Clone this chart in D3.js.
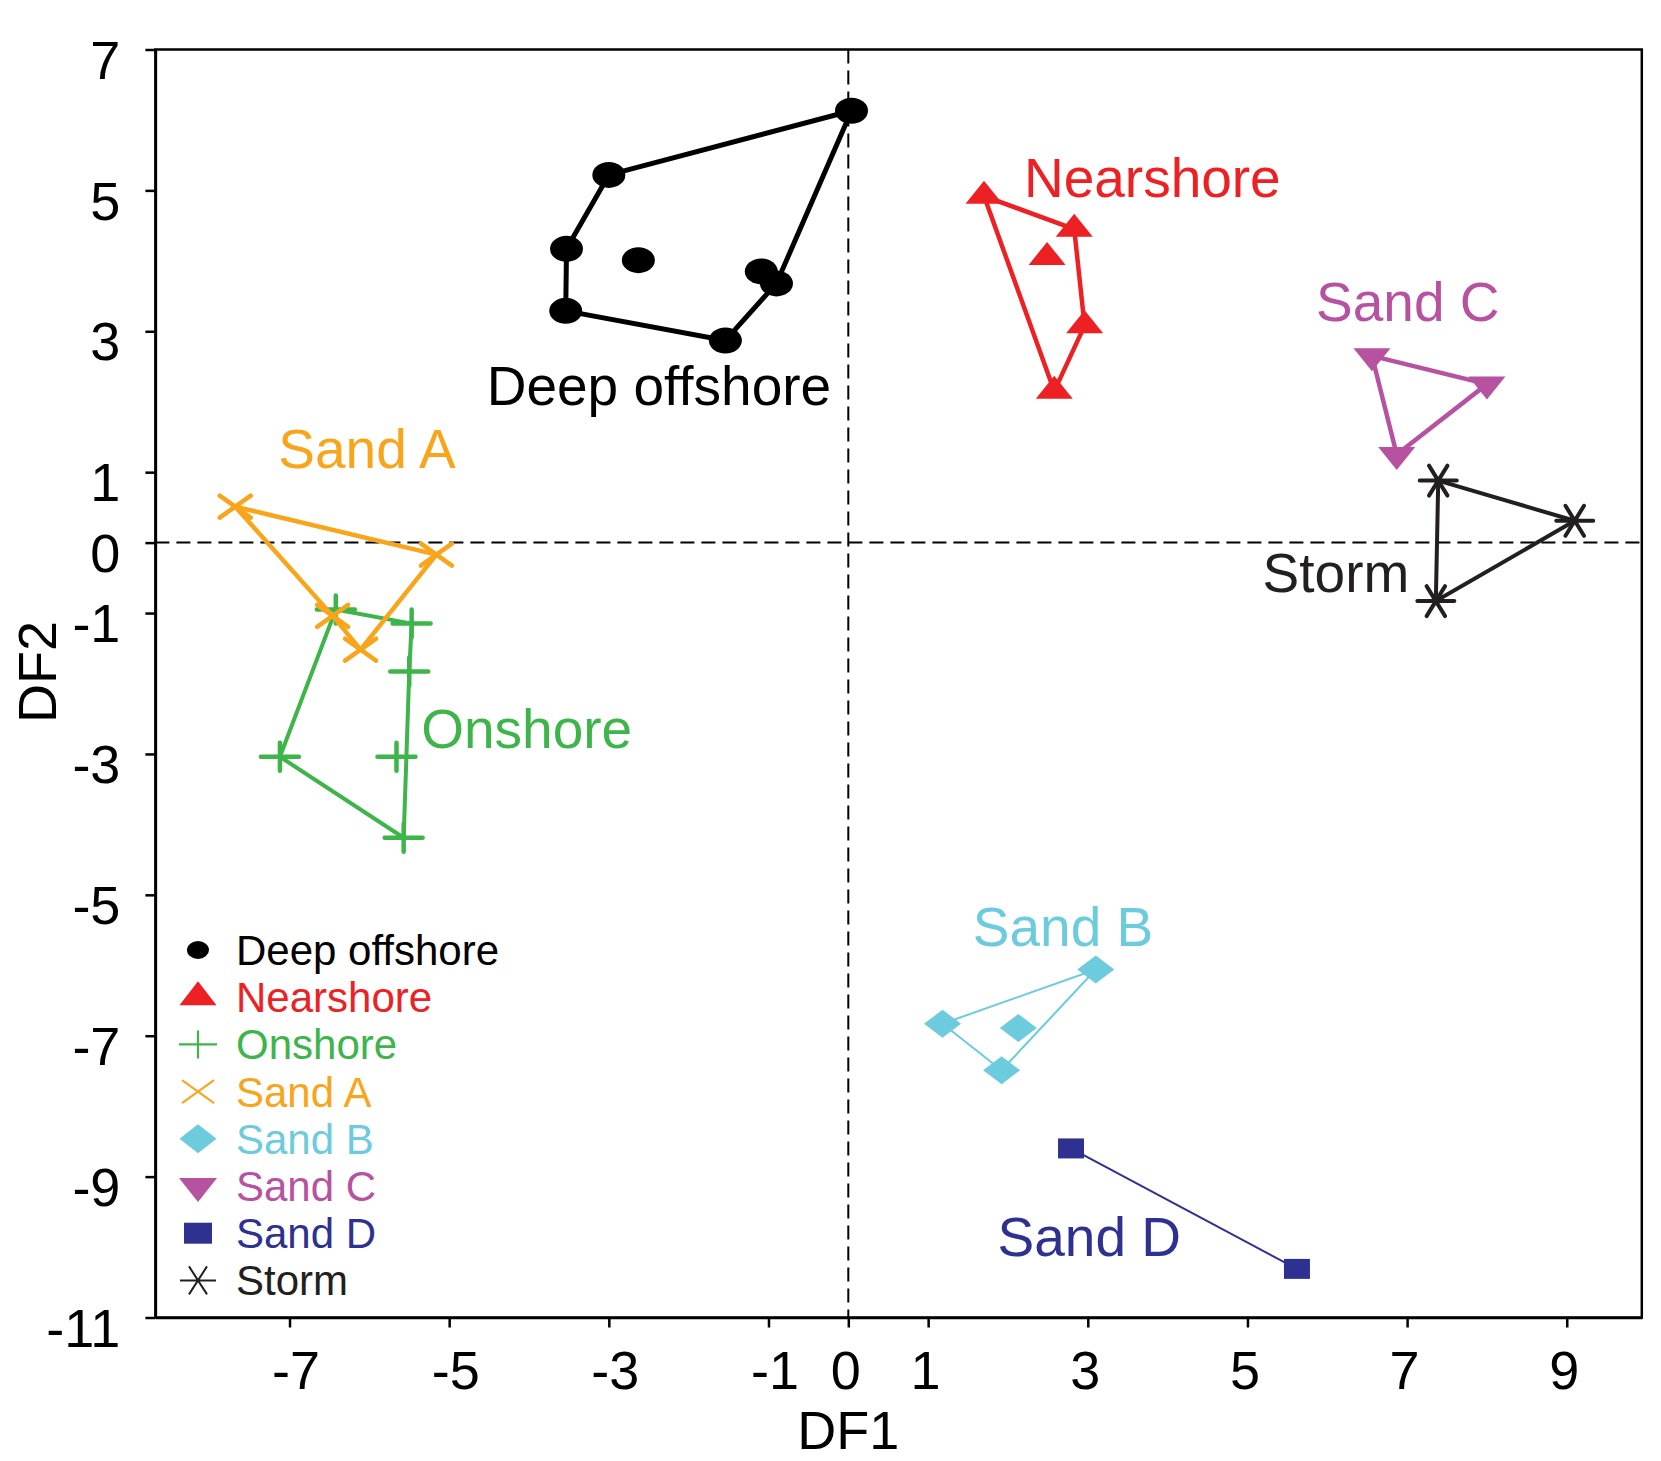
<!DOCTYPE html>
<html>
<head>
<meta charset="utf-8">
<script src="https://cdn.jsdelivr.net/npm/d3@7"></script>
<style>
  body { margin: 0; background: #fff; }
  svg { display: block; font-family: "Liberation Sans", Arial, sans-serif; }
</style>
</head>
<body>
<div id="chart"></div>
<script>
// Discriminant scores (DF1, DF2), one array per group
const deepOffshore = [[0.04, 6.13], [-3.00, 5.22], [-3.53, 4.17], [-3.54, 3.29], [-1.54, 2.87], [-0.90, 3.68], [-1.09, 3.85], [-2.63, 4.01]];
const nearshore = [[1.70, 4.92], [2.83, 4.45], [2.49, 4.05], [2.96, 3.08], [2.58, 2.15]];
const onshore = [[-6.42, -0.95], [-5.47, -1.15], [-5.50, -1.83], [-5.66, -3.04], [-7.12, -3.04], [-5.57, -4.19]];
const sandA = [[-7.68, 0.51], [-5.16, -0.17], [-6.46, -1.04], [-6.11, -1.52]];
const sandB = [[3.10, -6.06], [1.18, -6.83], [2.13, -6.89], [1.92, -7.49]];
const sandC = [[6.56, 2.65], [8.00, 2.25], [6.87, 1.25]];
const sandD = [[2.79, -8.60], [5.62, -10.31]];
const storm = [[7.39, 0.88], [9.10, 0.31], [7.36, -0.83]];

// which points make up the outline drawn round each group
const hulls = {
  'Deep offshore': [0, 1, 2, 3, 4, 5, 0],
  'Nearshore': [0, 1, 3, 4, 0],
  'Onshore': [0, 1, 2, 5, 4, 0],
  'Sand A': [0, 1, 3, 2, 0],
  'Sand B': [0, 1, 3, 0],
  'Sand C': [0, 1, 2, 0],
  'Sand D': [0, 1],
  'Storm': [0, 1, 2, 0],
};

const groupNames = ['Deep offshore', 'Nearshore', 'Onshore', 'Sand A', 'Sand B', 'Sand C', 'Sand D', 'Storm'];
const groupPoints = [deepOffshore, nearshore, onshore, sandA, sandB, sandC, sandD, storm];

const xTicks = [-7, -5, -3, -1, 0, 1, 3, 5, 7, 9];
const yTicks = [7, 5, 3, 1, 0, -1, -3, -5, -7, -9, -11];

// styling per group
const styles = {
  'Deep offshore': { color: '#000000', shape: 'circle', lw: 5, size: [33, 26], legSize: [22, 18] },
  'Nearshore': { color: '#ed2024', shape: 'triUp', lw: 4.5, size: [37, 23], legSize: [37, 24] },
  'Onshore': { color: '#3db54a', shape: 'plus', lw: 4, size: [38, 28], legSize: [38, 28], mw: 4.5, legMw: 2.2 },
  'Sand A': { color: '#f9a51b', shape: 'times', lw: 4.5, size: [31, 22], legSize: [32, 23], mw: 4.5, legMw: 2 },
  'Sand B': { color: '#6ccbdc', shape: 'diamond', lw: 2, size: [37, 28], legSize: [37, 29] },
  'Sand C': { color: '#b6529f', shape: 'triDown', lw: 4.5, size: [37, 23], legSize: [38, 24] },
  'Sand D': { color: '#2e3192', shape: 'square', lw: 2, size: [26, 20], legSize: [28, 21] },
  'Storm': { color: '#231f20', shape: 'asterisk', lw: 4, size: [37, 30], legSize: [36, 28], mw: 4, legMw: 2 },
};

// group name labels, placed in DF units
const labelPos = {
  'Deep offshore': [-4.53, 1.95],
  'Nearshore': [2.20, 4.91],
  'Sand C': [5.86, 3.14],
  'Sand A': [-7.14, 1.06],
  'Onshore': [-5.35, -2.92],
  'Storm': [5.19, -0.70],
  'Sand B': [1.56, -5.72],
  'Sand D': [1.87, -10.13],
};

const width = 1661;
const height = 1461;
const margins = { top: 49.5, right: 19.2, bottom: 143.5, left: 155.4 };
const innerWidth = width - margins.left - margins.right;
const innerHeight = height - margins.top - margins.bottom;

// shapes are a bit wider than tall, as in the figure
function markerPath(shape, w, h) {
  const a = w / 2, b = h / 2;
  switch (shape) {
    case 'circle':
      return `M${-a},0A${a},${b} 0 1,0 ${a},0A${a},${b} 0 1,0 ${-a},0Z`;
    case 'triUp':
      return `M0,${-2 * h / 3}L${a},${h / 3}L${-a},${h / 3}Z`;
    case 'triDown':
      return `M0,${2 * h / 3}L${a},${-h / 3}L${-a},${-h / 3}Z`;
    case 'diamond':
      return `M0,${-b}L${a},0L0,${b}L${-a},0Z`;
    case 'square':
      return `M${-a},${-b}H${a}V${b}H${-a}Z`;
    case 'plus':
      return `M${-a},0H${a}M0,${-b}V${b}`;
    case 'times':
      return `M${-a},${-b}L${a},${b}M${-a},${b}L${a},${-b}`;
    case 'asterisk':
      return `M${-a},0H${a}M${-w / 4},${-b}L${w / 4},${b}M${w / 4},${-b}L${-w / 4},${b}`;
    default:
      return '';
  }
}
const isStroked = shape => ['plus', 'times', 'asterisk'].includes(shape);

const svg = d3.select('#chart')
  .append('svg')
  .attr('width', width)
  .attr('height', height);

const g = svg.append('g')
  .attr('transform', `translate(${margins.left}, ${margins.top})`);

const xScale = d3.scaleLinear()
  .domain([-8.68, 9.94])
  .range([0, innerWidth]);

const yScale = d3.scaleLinear()
  .domain([-11, 7])
  .range([innerHeight, 0]);

// Axes
const xAxis = d3.axisBottom(xScale)
  .tickValues(xTicks)
  .tickFormat(d => String(d))
  .tickSize(10)
  .tickSizeOuter(0)
  .tickPadding(23);

const yAxis = d3.axisLeft(yScale)
  .tickValues(yTicks)
  .tickFormat(d => String(d))
  .tickSize(10)
  .tickSizeOuter(0)
  .tickPadding(25);

// zero lines
g.append('line')
  .attr('x1', xScale(0)).attr('x2', xScale(0))
  .attr('y1', 0).attr('y2', innerHeight)
  .attr('stroke', '#000').attr('stroke-width', 2)
  .attr('stroke-dasharray', '14,7');

g.append('line')
  .attr('x1', 0).attr('x2', innerWidth)
  .attr('y1', yScale(0)).attr('y2', yScale(0))
  .attr('stroke', '#000').attr('stroke-width', 2)
  .attr('stroke-dasharray', '14,7');

// frame
g.append('rect')
  .attr('width', innerWidth)
  .attr('height', innerHeight)
  .attr('fill', 'none')
  .attr('stroke', '#000')
  .attr('stroke-width', 2.5);

g.append('g')
  .attr('class', 'x axis')
  .attr('transform', `translate(0,${innerHeight})`)
  .call(xAxis);

g.append('g')
  .attr('class', 'y axis')
  .call(yAxis);

g.selectAll('.axis .domain').attr('stroke-width', 2.5);
g.selectAll('.axis .tick line').attr('stroke-width', 2.5);
g.selectAll('.axis text')
  .attr('font-size', 54)
  .attr('fill', '#000')
  .style('font-family', '"Liberation Sans", Arial, sans-serif');
g.selectAll('.y.axis text').attr('dy', '0.53em');
// negative labels sit a little right of their tick in the figure
g.selectAll('.x.axis text').attr('dx', d => (d < 0 ? 6 : -3));

// axis titles
svg.append('text')
  .attr('transform', 'translate(56,672) rotate(-90)')
  .attr('text-anchor', 'middle')
  .attr('font-size', 54)
  .text('DF2');

svg.append('text')
  .attr('x', margins.left + xScale(0))
  .attr('y', 1449)
  .attr('text-anchor', 'middle')
  .attr('font-size', 54)
  .text('DF1');

const line = d3.line()
  .x(d => xScale(d[0]))
  .y(d => yScale(d[1]));

// outlines and points
groupNames.forEach((name, i) => {
  const pts = groupPoints[i];
  const st = styles[name];

  g.append('path')
    .attr('class', 'hull')
    .attr('d', line(hulls[name].map(k => pts[k])))
    .attr('fill', 'none')
    .attr('stroke', st.color)
    .attr('stroke-width', st.lw)
    .attr('stroke-linejoin', 'round');

  g.selectAll(null)
    .data(pts)
    .enter()
    .append('path')
    .attr('transform', d => `translate(${xScale(d[0])},${yScale(d[1])})`)
    .attr('d', markerPath(st.shape, st.size[0], st.size[1]))
    .attr('fill', isStroked(st.shape) ? 'none' : st.color)
    .attr('stroke', isStroked(st.shape) ? st.color : 'none')
    .attr('stroke-width', st.mw || 0)
    .attr('stroke-linecap', 'round');
});

// group labels
g.selectAll('text.label')
  .data(groupNames)
  .enter()
  .append('text')
  .attr('class', 'label')
  .attr('x', d => xScale(labelPos[d][0]))
  .attr('y', d => yScale(labelPos[d][1]))
  .attr('font-size', 55)
  .attr('fill', d => styles[d].color)
  .text(d => d);

// legend
const legend = svg.append('g')
  .attr('transform', 'translate(198,965)');

const rows = legend.selectAll('g')
  .data(groupNames)
  .enter()
  .append('g')
  .attr('transform', (d, i) => `translate(0,${i * 47.2})`);

rows.append('path')
  .attr('transform', 'translate(0,-15)')
  .attr('d', d => markerPath(styles[d].shape, styles[d].legSize[0], styles[d].legSize[1]))
  .attr('fill', d => isStroked(styles[d].shape) ? 'none' : styles[d].color)
  .attr('stroke', d => isStroked(styles[d].shape) ? styles[d].color : 'none')
  .attr('stroke-width', d => styles[d].legMw || 0);

rows.append('text')
  .attr('x', 38)
  .attr('font-size', 42)
  .attr('fill', d => styles[d].color)
  .text(d => d);
</script>
</body>
</html>
